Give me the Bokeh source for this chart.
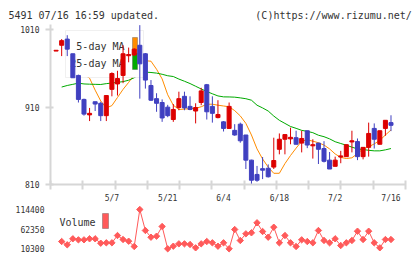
from math import pi

from bokeh.embed import file_html
from bokeh.layouts import column
from bokeh.models import BoxAnnotation, ColumnDataSource, FixedTicker, Label, Range1d, Title
from bokeh.plotting import figure
from bokeh.resources import INLINE

FONT = "DejaVu Sans Mono"
INK = "#333333"
AXIS_GREY = "#d6d6d6"
UP = "#dc0000"
DOWN = "#4040c0"
MA5_COLOR = "#ff8c00"
MA25_COLOR = "#00aa00"
VOL_COLOR = "#ff5a5a"

# Daily prices (first entry is the day before the window's first full session)
first_day = -1
opens = [982.5, 990, 998, 979, 951, 920, 900, 917, 915, 899,
         933, 940, 951, 976.5, 977.5, 990, 979, 938, 921, 916,
         910, 894, 909.5, 924, 911, 905, 916, 939, 911, 896.5,
         891, 882.5, 880, 888, 874, 841.5, 823, 830.5, 831, 832.5,
         855.5, 868.5, 869, 870.5, 863.5, 879.5, 860, 863.5, 856.5, 841.5,
         833.5, 845.5, 846, 865, 865.5, 846, 858, 882.5, 862, 882.5,
         890]
highs = [983.5, 998, 1003, 979, 952, 921, 909, 917, 917, 925.5,
         955, 957, 990, 987, 986, 1016, 980, 945, 928, 920,
         913, 914, 930, 930, 924, 915, 935, 940, 924, 919,
         892, 916, 888, 890, 874, 842, 834, 845.5, 836, 870.5,
         876, 874.5, 883.5, 879.5, 879.5, 879.5, 868.5, 864, 866, 852,
         846, 853.5, 861.5, 879.5, 869.5, 858, 890, 889, 879.5, 893,
         899.5]
lows = [982.5, 976, 976, 948, 916, 899, 892, 905, 892, 892,
        924, 925, 941, 968, 976, 921, 934, 918, 904, 891,
        897, 891, 906, 906, 906, 889, 912.5, 894, 890, 895.5,
        878.5, 882, 873, 864, 830, 810, 813.5, 817, 819, 830,
        849, 849, 862, 862, 851.5, 857, 843.5, 836.5, 838.5, 830,
        833.5, 837.5, 846, 851.5, 841.5, 842.5, 846, 856.5, 862, 873,
        879]
closes = [983.5, 996, 985, 948, 920, 901, 902, 914, 899, 925,
          953.5, 947, 979, 978, 985, 966, 945, 919, 915, 896,
          899, 907, 921, 909, 907, 909.5, 931, 904, 902, 900.5,
          882.5, 911, 874, 866.5, 841.5, 815.5, 815.5, 828.5, 820, 841,
          868.5, 874.5, 871, 862, 869.5, 861, 861.5, 855.5, 840, 830,
          841.5, 847, 861.5, 866.5, 846, 858, 876, 868.5, 879.5, 893,
          886.5]

# 5-day moving average, first value on day 3
ma5_start = 3
ma5 = [966, 952, 947.5, 932, 918, 909, 912, 922.5, 933, 942,
       952, 965, 970, 969.4, 959, 946.5, 926, 912.5, 907, 907.5,
       908, 908.5, 910.5, 913.8, 913.8, 912.5, 911.5, 910.5, 905.5, 898.7,
       889, 874, 856, 843, 832.5, 824.5, 824.5, 837, 847.5, 857,
       866, 867.7, 866, 864, 861, 856, 849.5, 845, 843.6, 844.5,
       850, 856, 858.7, 862.5, 867, 874, 880.5]

# 25-day moving average, first value on day 0
ma25_start = 0
ma25 = [936, 938, 939.5, 941, 940, 939.7, 939.5, 939.3, 940.4, 941.2,
        942, 943, 944.8, 948, 953, 955.3, 954.8, 954, 952.5, 950.6,
        949.6, 946.3, 943.5, 940.5, 937, 933.5, 930.2, 927.3, 924.5, 923.3,
        923.2, 922.9, 922, 920.9, 919, 912.5, 909, 905, 898.5, 893,
        889, 885, 882.6, 880, 878.7, 877, 873.7, 871.8, 869, 865.3,
        863, 860.8, 858.3, 856, 855.2, 854.2, 853.5, 853.5, 854.8, 856.5]

# Daily volume, first value on day 0
volume_start = 0
volume = [29600, 20900, 36800, 34100, 34100, 36800, 36800, 25100, 26200, 26200,
          45500, 34900, 30400, 16400, 114400, 58800, 41000, 43700, 69400, 10300,
          17200, 23500, 23500, 21700, 12900, 23500, 29600, 26200, 17200, 26200,
          10300, 61400, 32300, 50000, 52700, 79200, 56100, 41000, 67500, 26200,
          45500, 26200, 16400, 34100, 29600, 26200, 58800, 32300, 26200, 36800,
          19000, 26200, 32300, 56900, 34900, 56900, 26200, 12900, 34900, 34900]

date_ticks = [9, 19, 29, 39, 49, 59]
date_labels = ["5/7", "5/21", "6/4", "6/18", "7/2", "7/16"]
price_ticks = [810, 910, 1010]
volume_ticks = [10300, 62350, 114400]

header_left = "5491 07/16 16:59 updated."
header_right = "(C)https://www.rizumu.net/"

days = list(range(first_day, first_day + len(opens)))
candles = ColumnDataSource(dict(
    day=days, open=opens, high=highs, low=lows, close=closes,
    color=[UP if c >= o else DOWN for o, c in zip(opens, closes)],
))

scr = dict(left_units="screen", right_units="screen", bottom_units="screen", top_units="screen")

# ---------------- price panel ----------------
p = figure(width=420, height=190,
           x_range=Range1d(-2, 61.6), y_range=Range1d(810, 1016.85),
           min_border_left=50, min_border_right=15, min_border_top=24, min_border_bottom=6,
           toolbar_location=None, output_backend="svg")
p.outline_line_color = None
p.grid.visible = False

# header line: both texts share one row in a monospace face
p.title = Title(text=header_left + "\u00a0" * 16 + header_right, align="left", offset=-42,
                text_font=FONT, text_font_size="10px", text_font_style="normal",
                text_color=INK, standoff=8)

xa = p.xaxis[0]
x0, x1 = p.x_range.start, p.x_range.end
xa.ticker = FixedTicker(ticks=[x0 + k * (x1 - x0) / 11 for k in range(12)], minor_ticks=[])
xa.major_label_text_font_size = "1px"
xa.major_label_text_color = None
xa.major_label_standoff = 0
xa.major_tick_out = 5
xa.major_tick_in = 4
xa.axis_line_color = AXIS_GREY
xa.axis_line_width = 2
xa.major_tick_line_color = AXIS_GREY
xa.major_tick_line_width = 2

ya = p.yaxis[0]
ya.ticker = FixedTicker(ticks=price_ticks, minor_ticks=[])
ya.major_label_text_font = FONT
ya.major_label_text_font_size = "8px"
ya.major_label_text_color = INK
ya.major_label_standoff = 6
ya.major_tick_out = 5
ya.major_tick_in = 3
ya.axis_line_color = AXIS_GREY
ya.axis_line_width = 2
ya.major_tick_line_color = AXIS_GREY
ya.major_tick_line_width = 2

# moving averages sit underneath the legend box
p.line(list(range(ma5_start, ma5_start + len(ma5))), ma5,
       line_color=MA5_COLOR, line_width=1, level="image")
p.line(list(range(ma25_start, ma25_start + len(ma25))), ma25,
       line_color=MA25_COLOR, line_width=1, level="image")

# legend box (candles are drawn over it)
p.add_layout(BoxAnnotation(left=15, right=93, bottom=107, top=154, fill_color="white", fill_alpha=1,
                           line_color="#cccccc", line_width=1, level="underlay", **scr))
for txt, ypos in (("5-day MA", 138), ("25-day MA", 121.5)):
    p.add_layout(Label(x=74, y=ypos, x_units="screen", y_units="screen", text=txt,
                       text_align="right", text_baseline="middle", text_font=FONT,
                       text_font_size="10px", text_color=INK, level="underlay"))
p.add_layout(BoxAnnotation(left=82, right=87, bottom=131, top=147, fill_color=MA5_COLOR, fill_alpha=1,
                           line_color="#333333", line_width=1, level="underlay", **scr))
p.add_layout(BoxAnnotation(left=82, right=87, bottom=115, top=131, fill_color=MA25_COLOR, fill_alpha=1,
                           line_color="#333333", line_width=1, level="underlay", **scr))

# candles
p.segment(x0="day", y0="low", x1="day", y1="high", line_color="color", line_width=1, source=candles)
p.vbar(x="day", width=0.72, top="open", bottom="close", fill_color="color",
       line_color="color", line_width=1, source=candles)

# ---------------- volume panel ----------------
v = figure(width=420, height=69, title=None, x_range=p.x_range, y_range=Range1d(-2150, 125000),
           min_border_left=50, min_border_right=15, min_border_top=15, min_border_bottom=6,
           x_axis_location="above", toolbar_location=None, output_backend="svg")
v.outline_line_color = None
v.grid.visible = False

vx = v.xaxis[0]
vx.ticker = FixedTicker(ticks=date_ticks, minor_ticks=[])
vx.major_label_overrides = dict(zip(date_ticks, date_labels))
vx.major_label_text_font = FONT
vx.major_label_text_font_size = "8px"
vx.major_label_text_color = INK
vx.major_label_standoff = 3
vx.major_tick_out = 0
vx.major_tick_in = 0
vx.axis_line_color = None

vy = v.yaxis[0]
vy.ticker = FixedTicker(ticks=volume_ticks, minor_ticks=[])
vy.major_label_overrides = {t: str(t) for t in volume_ticks}
vy.major_label_text_font = FONT
vy.major_label_text_font_size = "8px"
vy.major_label_text_color = INK
vy.major_label_standoff = 6
vy.major_tick_out = 0
vy.major_tick_in = 0
vy.axis_line_color = None

vdays = list(range(volume_start, volume_start + len(volume)))
v.line(vdays, volume, line_color=VOL_COLOR, line_width=1)
v.scatter(vdays, volume, marker="square", angle=pi / 4, size=4.5,
          fill_color=VOL_COLOR, line_color=VOL_COLOR)

v.add_layout(Label(x=9, y=31, x_units="screen", y_units="screen", text="Volume",
                   text_font=FONT, text_font_size="10px", text_color=INK, text_baseline="middle"))
v.add_layout(BoxAnnotation(left=52, right=58, bottom=25, top=40, fill_color=VOL_COLOR, fill_alpha=1,
                           line_color="#333333", line_width=1, **scr))

layout = column(p, v)
open("out.html", "w").write(file_html(layout, INLINE))
